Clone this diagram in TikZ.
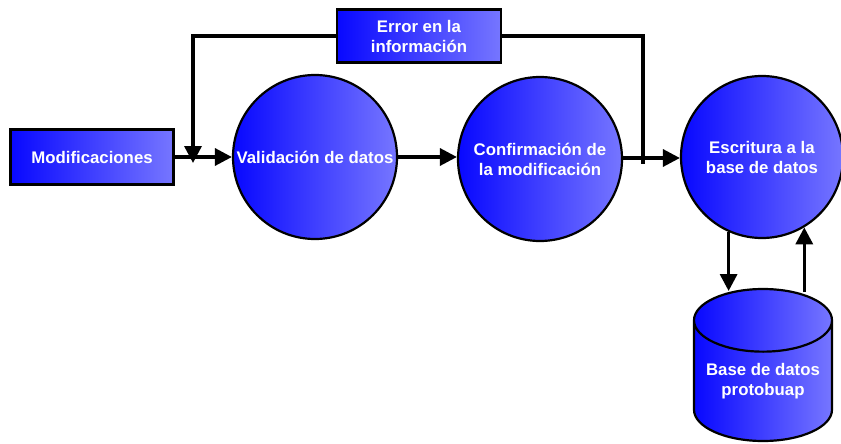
\documentclass[tikz,border=0pt]{standalone}
\usepackage{fontspec}
\setmainfont{Liberation Sans}
\usetikzlibrary{positioning,shapes,arrows.meta}
\definecolor{azulA}{RGB}{8,8,255}
\definecolor{azulB}{RGB}{118,118,255}
\begin{document}
\begin{tikzpicture}[x=1pt,y=-1pt,
    caja/.style={draw, line width=2.2pt, left color=azulA, right color=azulB, text=white,
        font=\bfseries\fontsize{16.8}{20}\selectfont, align=center, inner sep=0pt},
    proc/.style={caja, circle, minimum size=164pt},
    flecha/.style={line width=3.4pt, -{Triangle[length=17pt,width=17pt]}},
    linea/.style={line width=3.4pt}]
    \useasboundingbox (0,0) rectangle (841,444);
    \node[caja, minimum width=163pt, minimum height=55pt] (mod) at (92,157) {Modificaciones};
    \node[proc] (val) at (315,157) {Validación de datos};
    \node[proc] (conf) at (540,159) {Confirmación de\\la modificación};
    \node[proc, minimum size=162pt] (esc) at (762,157) {Escritura a la\\base de datos};
    \node[caja, minimum width=164pt, minimum height=53pt] (err) at (419,36) {Error en la\\información};
    \node[caja, cylinder, shape border rotate=90, aspect=0.55, minimum width=138pt,
        minimum height=152pt, anchor=shape center] (db) at (763,365) {Base de datos\\protobuap};
    \coordinate (fbL) at (193,163);
    \coordinate (fbR) at (643,164);
    \draw[flecha] (mod.east) -- (mod.east -| val.west);
    \draw[flecha] (val.east) -- (val.east -| conf.west);
    \draw[flecha] (conf.east |- 0,158) -- (esc.west |- 0,158);
    \draw[flecha] (err.west) -| (fbL);
    \draw[linea] (err.east) -| (fbR);
    \draw[flecha] (esc.246) -- (esc.246 |- 0,291);
    \draw[flecha] (esc.301 |- 0,292) -- (esc.301);
\end{tikzpicture}
\end{document}
